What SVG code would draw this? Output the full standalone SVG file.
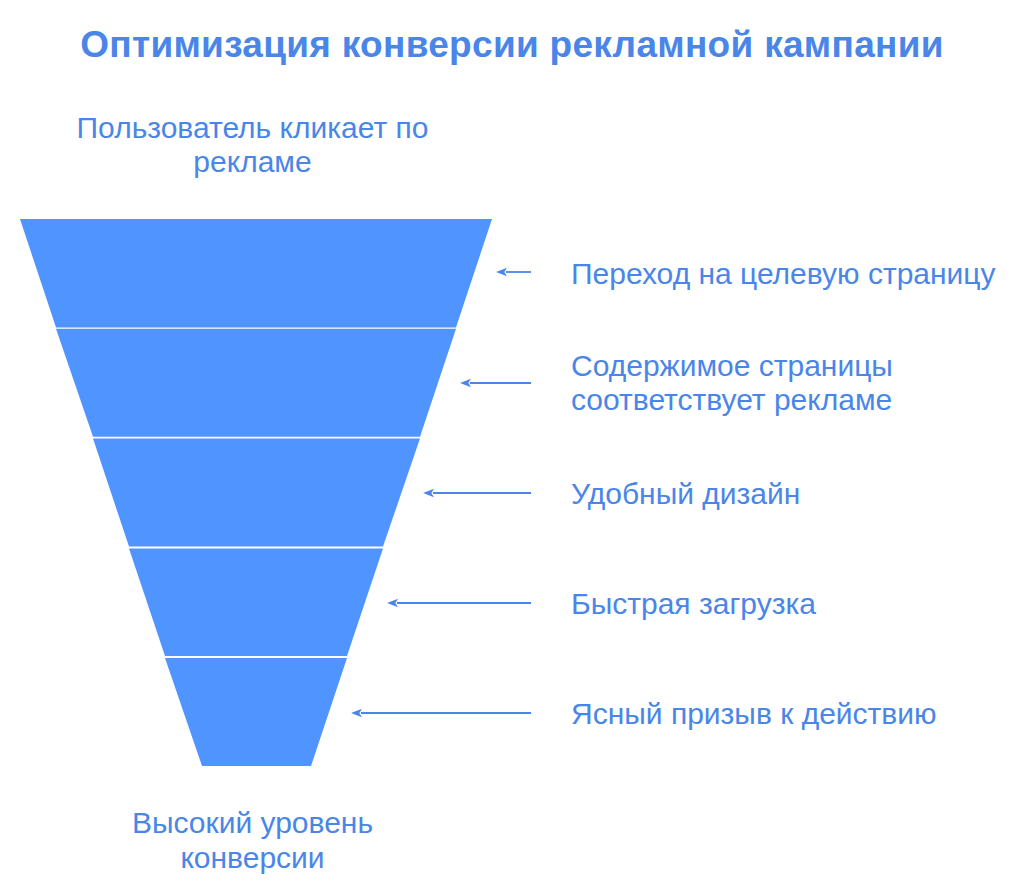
<svg xmlns="http://www.w3.org/2000/svg" width="1024" height="895" viewBox="0 0 1024 895">
<defs>
<style>
.t{font-family:"Liberation Sans",Arial,sans-serif;fill:#4a86e8}
.title{font-size:37px;font-weight:bold;letter-spacing:0.3px}
.lbl{font-size:30px}
.seg{fill:#5094ff}
.arr{stroke:#4a86e8;stroke-width:1.8;fill:none;marker-end:url(#ah)}
</style>
<marker id="ah" viewBox="0 0 10 10" refX="1" refY="5" markerWidth="11" markerHeight="11" orient="auto" markerUnits="userSpaceOnUse">
<path d="M0,1 L10,5 L0,9 L2.5,5 Z" fill="#4a86e8"/>
</marker>
</defs>
<rect width="1024" height="895" fill="#ffffff"/>
<text class="t title" x="512" y="57" text-anchor="middle">Оптимизация конверсии рекламной кампании</text>
<g id="start">
<text class="t lbl" x="252.5" y="138" text-anchor="middle">Пользователь кликает по</text>
<text class="t lbl" x="252.5" y="172" text-anchor="middle">рекламе</text>
</g>
<g id="funnel">
<g id="stage1"><polygon class="seg" points="20,219 492,219 456,327.5 56,327.5"/></g>
<g id="stage2"><polygon class="seg" points="56,328.8 456,328.8 420,436.8 93,436.8"/></g>
<g id="stage3"><polygon class="seg" points="93,438.5 420,438.5 383,546.6 129,546.6"/></g>
<g id="stage4"><polygon class="seg" points="129,548.5 383,548.5 347,656 165,656"/></g>
<g id="stage5"><polygon class="seg" points="165,658 347,658 311,766 202,766"/></g>
</g>
<g id="connectors">
<line class="arr" x1="531" y1="272" x2="506" y2="272"/>
<line class="arr" x1="531" y1="383" x2="470" y2="383"/>
<line class="arr" x1="531" y1="493" x2="433" y2="493"/>
<line class="arr" x1="531" y1="603" x2="397" y2="603"/>
<line class="arr" x1="531" y1="713" x2="361" y2="713"/>
</g>
<g id="label1"><text class="t lbl" x="571" y="284">Переход на целевую страницу</text></g>
<g id="label2"><text class="t lbl" x="571" y="376">Содержимое страницы</text><text class="t lbl" x="571" y="410">соответствует рекламе</text></g>
<g id="label3"><text class="t lbl" x="571" y="504">Удобный дизайн</text></g>
<g id="label4"><text class="t lbl" x="571" y="614">Быстрая загрузка</text></g>
<g id="label5"><text class="t lbl" x="571" y="724">Ясный призыв к действию</text></g>
<g id="end">
<text class="t lbl" x="252.5" y="833" text-anchor="middle">Высокий уровень</text>
<text class="t lbl" x="252.5" y="868" text-anchor="middle">конверсии</text>
</g>
</svg>
